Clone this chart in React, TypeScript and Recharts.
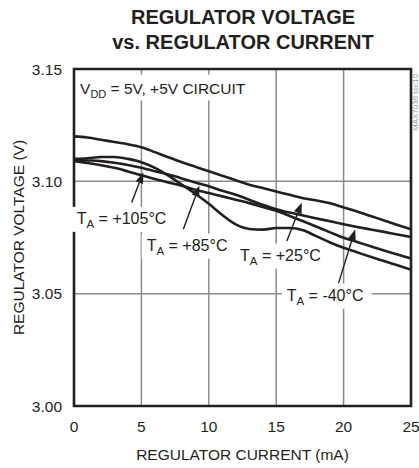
import React from "react";
import {
  LineChart,
  Line,
  XAxis,
  YAxis,
  CartesianGrid,
  ReferenceArea,
  ReferenceDot,
  ReferenceLine,
} from "recharts";

// regulator current (mA)
const current = [0, 1, 2, 3, 4, 5, 6, 7, 8, 9, 10, 11, 12, 13, 14, 15, 16, 17, 18, 19, 20, 21, 22, 23, 24, 25];

// regulator voltage (V) per temperature
const vPlus25 = [
  3.12, 3.1195, 3.1185, 3.1175, 3.1165, 3.1152, 3.113, 3.1107, 3.1085, 3.1065, 3.1045, 3.1025, 3.1005,
  3.0985, 3.097, 3.0955, 3.094, 3.0925, 3.0915, 3.0902, 3.0884, 3.0866, 3.0846, 3.0826, 3.0806, 3.0787,
];
const vMinus40 = [
  3.1095, 3.1093, 3.109, 3.1083, 3.1073, 3.106, 3.1045, 3.103, 3.1013, 3.0995, 3.0978, 3.0958, 3.094,
  3.0918, 3.0896, 3.0876, 3.0861, 3.0848, 3.0835, 3.0822, 3.0809, 3.0797, 3.0786, 3.0775, 3.0763, 3.0752,
];
const vPlus85 = [
  3.109, 3.1082, 3.1072, 3.106, 3.1044, 3.1027, 3.101, 3.0995, 3.098, 3.0963, 3.0948, 3.0933, 3.0918,
  3.0903, 3.0886, 3.0869, 3.0846, 3.0822, 3.0798, 3.0773, 3.0749, 3.073, 3.0711, 3.0692, 3.0674, 3.0656,
];
const vPlus105 = [
  3.11, 3.1103, 3.1108, 3.1108, 3.11, 3.1085, 3.106, 3.1025, 3.0985, 3.0945, 3.09, 3.085, 3.0808,
  3.0788, 3.0785, 3.0792, 3.0792, 3.0782, 3.0755, 3.0728, 3.0704, 3.0684, 3.0664, 3.0645, 3.0626, 3.0607,
];

const xTicks = [0, 5, 10, 15, 20, 25];
const yTicks = [3.0, 3.05, 3.1, 3.15];

const rows = current.map((c, i) => ({
  current: c,
  p25: vPlus25[i],
  m40: vMinus40[i],
  p85: vPlus85[i],
  p105: vPlus105[i],
}));

const FONT = '"Liberation Sans", Arial, sans-serif';
const INK = "#231f20";

// curve labels: anchor = left edge / vertical centre, in data units
const tempLabels = [
  { temp: "+105°C", x: 0.2, y: 3.0833, w: 98 },
  { temp: "+85°C", x: 5.39, y: 3.0714, w: 90 },
  { temp: "+25°C", x: 12.32, y: 3.0669, w: 90 },
  { temp: "-40°C", x: 15.78, y: 3.0491, w: 90 },
];

// arrows: tail -> tip, in data units
const arrows = [
  { x1: 4.28, y1: 3.0906, x2: 5.14, y2: 3.104 },
  { x1: 8.11, y1: 3.0787, x2: 9.3, y2: 3.0981 },
  { x1: 15.79, y1: 3.0734, x2: 16.9, y2: 3.0906 },
  { x1: 19.62, y1: 3.0546, x2: 20.86, y2: 3.0787 },
];

function Arrow(props: any) {
  const { x1, y1, x2, y2 } = props;
  const dx = x2 - x1;
  const dy = y2 - y1;
  const len = Math.sqrt(dx * dx + dy * dy) || 1;
  const ux = dx / len;
  const uy = dy / len;
  const hl = 11;
  const hw = 4;
  const bx = x2 - ux * hl;
  const by = y2 - uy * hl;
  const pts = `${x2},${y2} ${bx - uy * hw},${by + ux * hw} ${bx + uy * hw},${by - ux * hw}`;
  return (
    <g>
      <line x1={x1} y1={y1} x2={bx} y2={by} stroke={INK} strokeWidth={1.4} />
      <polygon points={pts} fill={INK} />
    </g>
  );
}

function TempLabel({ cx, cy, temp, w }: any) {
  return (
    <g>
      <rect x={cx - 5} y={cy - 12} width={w} height={25} fill="#fff" />
      <text x={cx} y={cy + 5} fontFamily={FONT} fontSize={16} fill={INK}>
        <tspan>T</tspan>
        <tspan dy={4} fontSize={11.5}>A</tspan>
        <tspan dy={-4}>{` = ${temp}`}</tspan>
      </text>
    </g>
  );
}

function VddLabel({ cx, cy }: any) {
  return (
    <g>
      <rect x={cx - 4} y={cy - 14} width={172} height={26} fill="#fff" />
      <text x={cx} y={cy + 5} fontFamily={FONT} fontSize={15.5} fill={INK}>
        <tspan>V</tspan>
        <tspan dy={4} fontSize={11}>DD</tspan>
        <tspan dy={-4}> = 5V, +5V CIRCUIT</tspan>
      </text>
    </g>
  );
}

export default function App() {
  return (
    <div style={{ position: "absolute", left: 0, top: 0, width: 419, height: 468, background: "#fff" }}>
      <div
        style={{
          position: "absolute",
          left: 0,
          top: 5,
          width: 486,
          textAlign: "center",
          fontFamily: FONT,
          fontWeight: 700,
          fontSize: 20,
          lineHeight: "25px",
          color: INK,
        }}
      >
        REGULATOR VOLTAGE
        <br />
        vs. REGULATOR CURRENT
      </div>
      <div
        style={{
          position: "absolute",
          left: 412,
          top: 131,
          transform: "rotate(-90deg)",
          transformOrigin: "left top",
          fontFamily: FONT,
          fontSize: 8,
          lineHeight: "8px",
          color: "#9a9a9a",
          whiteSpace: "nowrap",
        }}
      >
        MAX7036 toc10
      </div>
      <LineChart
        width={419}
        height={468}
        data={rows}
        margin={{ top: 69, right: 8, bottom: 0, left: 0 }}
        style={{ position: "absolute", left: 0, top: 0 }}
      >
        <CartesianGrid stroke="#8c8c8c" strokeWidth={1.5} />
        <XAxis
          dataKey="current"
          type="number"
          domain={[0, 25]}
          ticks={xTicks}
          height={62}
          tickLine={false}
          axisLine={false}
          tickSize={0}
          tickMargin={15}
          tick={{ fontFamily: FONT, fontSize: 15.5, fill: INK }}
          label={{
            value: "REGULATOR CURRENT (mA)",
            position: "insideBottom",
            offset: 8,
            style: { fontFamily: FONT, fontSize: 15.5, fill: INK },
          }}
        />
        <YAxis
          type="number"
          domain={[3.0, 3.15]}
          ticks={yTicks}
          width={74}
          tickLine={false}
          axisLine={false}
          tickSize={0}
          tickMargin={12}
          tickFormatter={(v: number) => v.toFixed(2)}
          tick={{ fontFamily: FONT, fontSize: 15.5, fill: INK }}
          label={{
            content: (p: any) => {
              const vb = p.viewBox;
              const x = vb.x + 18;
              const y = vb.y + vb.height / 2;
              return (
                <text
                  x={x}
                  y={y}
                  transform={`rotate(-90 ${x} ${y})`}
                  textAnchor="middle"
                  dominantBaseline="central"
                  fontFamily={FONT}
                  fontSize={15.5}
                  fill={INK}
                >
                  REGULATOR VOLTAGE (V)
                </text>
              );
            },
          }}
        />
        <ReferenceDot x={0.45} y={3.1413} r={0} shape={(p: any) => <VddLabel cx={p.cx} cy={p.cy} />} />
        {tempLabels.map((l) => (
          <ReferenceDot
            key={l.temp}
            x={l.x}
            y={l.y}
            r={0}
            shape={(p: any) => <TempLabel cx={p.cx} cy={p.cy} temp={l.temp} w={l.w} />}
          />
        ))}
        {arrows.map((a, i) => (
          <ReferenceLine
            key={i}
            segment={[
              { x: a.x1, y: a.y1 },
              { x: a.x2, y: a.y2 },
            ]}
            shape={(p: any) => <Arrow {...p} />}
          />
        ))}
        <Line type="monotone" dataKey="p25" stroke={INK} strokeWidth={2.6} dot={false} isAnimationActive={false} />
        <Line type="monotone" dataKey="m40" stroke={INK} strokeWidth={2.6} dot={false} isAnimationActive={false} />
        <Line type="monotone" dataKey="p85" stroke={INK} strokeWidth={2.6} dot={false} isAnimationActive={false} />
        <Line type="monotone" dataKey="p105" stroke={INK} strokeWidth={2.6} dot={false} isAnimationActive={false} />
        <ReferenceArea x1={0} x2={25} y1={3.0} y2={3.15} fill="none" stroke={INK} strokeWidth={2.6} />
      </LineChart>
    </div>
  );
}
